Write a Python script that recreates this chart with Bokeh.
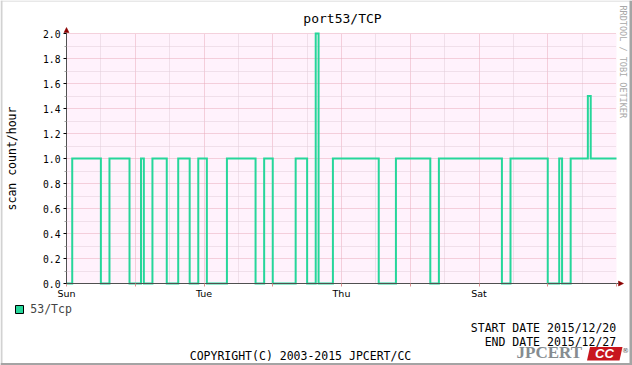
from math import pi
from bokeh.plotting import figure
from bokeh.models import (Range1d, FixedTicker, Grid, Label, Legend, LegendItem,
                          Arrow, NormalHead, ColumnDataSource, LinearAxis, BoxAnnotation,
                          PolyAnnotation)
from bokeh.embed import file_html
from bokeh.resources import INLINE

# ---- data (hours since Sun 2015/12/20 00:00, value holds until next change) ----
change_hours = [0, 2, 12, 15, 22, 26, 27, 30, 35, 39, 43, 46, 49, 56, 66, 69, 72,
                80, 84, 87, 88, 93, 109, 115, 127, 130, 152, 155, 168, 172, 173,
                176, 182, 183, 192]
scan_counts = [0, 1, 0, 1, 0, 1, 0, 1, 0, 1, 0, 1, 0, 1, 0, 1, 0,
               1, 0, 2, 0, 1, 0, 1, 0, 1, 0, 1, 0, 1, 0,
               1, 1.5, 1, 1]

day_ticks = [0, 24, 48, 72, 96, 120, 144, 168, 192]
day_labels = ["Sun", "", "Tue", "", "Thu", "", "Sat", "", ""]
day_grid = [24, 48, 72, 96, 120, 144, 168]
halfday_grid = [12, 36, 60, 84, 108, 132, 156, 180]

y_ticks = [0.0, 0.2, 0.4, 0.6, 0.8, 1.0, 1.2, 1.4, 1.6, 1.8, 2.0]
y_tick_labels = ["0.0", "0.2", "0.4", "0.6", "0.8", "1.0", "1.2", "1.4", "1.6", "1.8", "2.0"]
y_minor = [0.1, 0.3, 0.5, 0.7, 0.9, 1.1, 1.3, 1.5, 1.7, 1.9]

title_text = "port53/TCP"
y_label_text = "scan count/hour"
series_name = "53/Tcp"
start_text = "START DATE 2015/12/20"
end_text = "END DATE 2015/12/27"
copyright_text = "COPYRIGHT(C) 2003-2015 JPCERT/CC"
watermark_text = "RRDTOOL / TOBI OETIKER"

LINE = "#26d69a"
MONO = "DejaVu Sans Mono"

# ---- layout: canvas is the frame; the plot area is placed inside it ----
W, H = 632, 365
PL, PR, PT, PB = 66, 616, 33, 283          # plot area in canvas pixels
X0, X1 = 0, 192
Y0, Y1 = 0, 2.0
kx = (PR - PL) / (X1 - X0)
ky = (PB - PT) / (Y1 - Y0)

def x_of(px):
    return X0 + (px - PL) / kx

def y_of(py):
    return Y0 + (PB - py) / ky

p = figure(width=W, height=H, output_backend="svg", toolbar_location=None,
           x_range=Range1d(x_of(0), x_of(W)), y_range=Range1d(y_of(H), y_of(0)),
           x_axis_location=None, y_axis_location=None, min_border=0)
p.background_fill_color = "white"
p.border_fill_color = "white"
p.outline_line_color = None
p.grid.visible = False

# plot-area background
p.add_layout(BoxAnnotation(left=X0, right=X1, bottom=Y0, top=Y1, fill_color="#fff2fc",
                           fill_alpha=1, line_color=None, level="image"))

# canvas frame (shaded border)
for l, r, b, t, c in [(0, 2, H, 0, "#d2d2d2"), (0, W, 1, 0, "#d2d2d2"),
                      (629, W, H, 0, "#a4a4a4"), (0, W, H, 362.5, "#a4a4a4")]:
    p.add_layout(BoxAnnotation(left=x_of(l), right=x_of(r), bottom=y_of(b), top=y_of(t),
                               fill_color=c, fill_alpha=1, line_color=None, level="overlay"))

p.add_layout(Grid(dimension=0, ticker=FixedTicker(ticks=day_grid, minor_ticks=halfday_grid),
                  cross_bounds=(Y0, Y1),
                  grid_line_color="#e8aabb", grid_line_dash="1 1",
                  minor_grid_line_color="#e0ccd8", minor_grid_line_dash="1 1"))
p.add_layout(Grid(dimension=1, ticker=FixedTicker(ticks=y_ticks[1:], minor_ticks=y_minor),
                  cross_bounds=(X0, X1),
                  grid_line_color="#e8aabb", grid_line_dash="1 1",
                  minor_grid_line_color="#e0ccd8", minor_grid_line_dash="1 1"))

# x axis
xa = LinearAxis(fixed_location=Y0, bounds=(X0, X1), ticker=FixedTicker(ticks=day_ticks))
xa.major_label_overrides = dict(zip(day_ticks, day_labels))
xa.major_tick_in = 0
xa.major_tick_out = 3
xa.major_tick_line_color = "#e09090"
xa.minor_tick_line_color = None
xa.axis_line_color = "#505050"
xa.major_label_text_font = "DejaVu Sans"
xa.major_label_text_font_size = "9.5px"
xa.major_label_text_color = "black"
xa.major_label_standoff = 1
p.add_layout(xa, "below")

# y axis
ya = LinearAxis(fixed_location=X0, bounds=(Y0, Y1),
                ticker=FixedTicker(ticks=y_ticks, minor_ticks=y_minor))
ya.major_label_overrides = dict(zip(y_ticks, y_tick_labels))
ya.major_tick_in = 0
ya.major_tick_out = 3
ya.major_tick_line_color = "black"
ya.minor_tick_in = 0
ya.minor_tick_out = 2
ya.minor_tick_line_color = "#a0a0a0"
ya.axis_line_color = "#505050"
ya.major_label_text_font = MONO
ya.major_label_text_font_size = "9.7px"
ya.major_label_text_color = "black"
ya.major_label_standoff = 3
p.add_layout(ya, "left")

src = ColumnDataSource(dict(hours=change_hours, count=scan_counts))
p.step("hours", "count", source=src, mode="after", line_color=LINE,
       line_width=2, line_join="miter")

# axis arrows (screen units, origin bottom-left of canvas)
head = dict(size=5, fill_color="#8b0000", line_color="#8b0000", line_width=0.5)
p.add_layout(Arrow(end=NormalHead(**head), x_start=PR, y_start=H - PB, x_end=PR + 7, y_end=H - PB,
                   start_units="screen", end_units="screen", line_color="#505050", line_width=1))
p.add_layout(Arrow(end=NormalHead(**head), x_start=PL, y_start=H - PT, x_end=PL, y_end=H - PT + 6,
                   start_units="screen", end_units="screen", line_color="#505050", line_width=1))

# legend (swatch renderer has no drawable points)
nan = float("nan")
sw = p.quad(left=[nan], right=[nan], top=[nan], bottom=[nan], fill_color=LINE,
            line_color="black", line_width=1)
legend = Legend(items=[LegendItem(label=series_name, renderers=[sw])],
                location=(14.3, 49.5), padding=0, margin=0, spacing=0,
                glyph_width=10, glyph_height=10, label_standoff=6, label_height=10,
                label_text_font=MONO, label_text_font_size="11.5px",
                border_line_color=None, background_fill_alpha=0)
p.add_layout(legend)

def lab(text, x, y, **kw):
    p.add_layout(Label(text=text, x=x, y=y, x_units="screen", y_units="screen", **kw))

lab(title_text, 342, H - 17.7, text_font=MONO, text_font_size="13px", text_align="center",
    text_baseline="alphabetic", text_color="black")
lab(y_label_text, 11, H - 158, angle=pi / 2, text_font=MONO, text_font_size="11.5px",
    text_align="center", text_baseline="middle", text_color="black")
lab(watermark_text, 622.7, H - 5, angle=-pi / 2, text_font=MONO, text_font_size="8.5px",
    text_align="left", text_baseline="middle", text_color="#a8a8a8")
lab(start_text, 615.7, H - 327.3, text_font=MONO, text_font_size="11.5px", text_align="right",
    text_baseline="alphabetic", text_color="black")
lab(end_text, 615.7, H - 341, text_font=MONO, text_font_size="11.5px", text_align="right",
    text_baseline="alphabetic", text_color="black")
lab(copyright_text, 300, H - 355, text_font=MONO, text_font_size="11.5px", text_align="center",
    text_baseline="alphabetic", text_color="black")

# logo
p.add_layout(PolyAnnotation(xs=[x_of(589.5), x_of(622), x_of(619), x_of(586.5)],
                            ys=[y_of(346.5), y_of(346.5), y_of(360), y_of(360)],
                            fill_color="#c8161e", fill_alpha=1, line_color=None))
lab("JPCERT", 516, H - 361.5, text_font="Liberation Serif", text_font_size="17px",
    text_font_style="bold", text_align="left", text_baseline="bottom", text_color="#868c90")
lab("CC", 604, H - 353.3, text_font="Liberation Sans", text_font_size="13px",
    text_font_style="bold italic", text_align="center", text_baseline="middle",
    text_color="white")
lab("\u00ae", 625, H - 350, text_font="DejaVu Sans", text_font_size="7px",
    text_align="center", text_baseline="middle", text_color="#555555")

open("out.html", "w").write(file_html(p, INLINE))
